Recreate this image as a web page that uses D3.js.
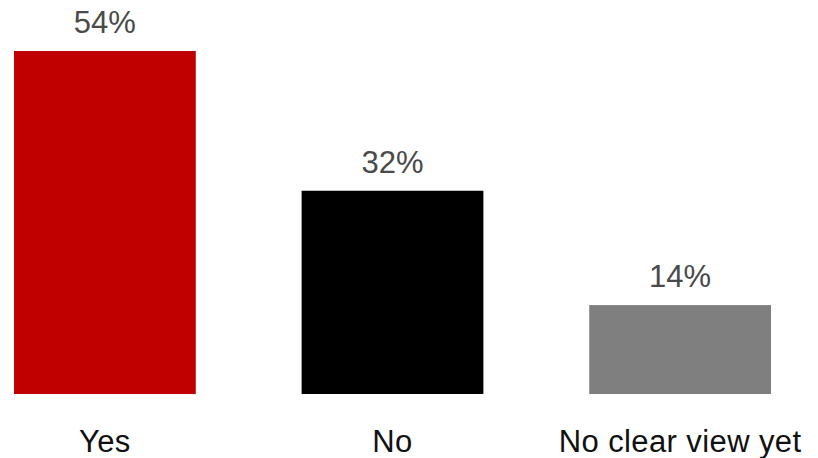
<!DOCTYPE html>
<html>
<head>
<meta charset="utf-8">
<script src="https://cdn.jsdelivr.net/npm/d3@7"></script>
<style>
  body { margin: 0; background: #fff; }
</style>
</head>
<body>
<div id="chart"></div>
<script>
const categories = ["Yes", "No", "No clear view yet"];
const values = [54, 32, 14];
const colors = ["#c00000", "#000000", "#7f7f7f"];

const width = 818;
const height = 458;
const baseline = 394;

const svg = d3.select("#chart")
  .append("svg")
  .attr("width", width)
  .attr("height", height);

const x = d3.scaleBand()
  .domain(categories)
  .range([14, 771])
  .paddingInner(0.368)
  .paddingOuter(0);

const y = d3.scaleLinear()
  .domain([0, 54])
  .range([baseline, 51]);

const data = categories.map((c, i) => ({ cat: c, value: values[i], color: colors[i] }));

// bars
svg.selectAll("rect")
  .data(data)
  .enter()
  .append("rect")
  .attr("x", d => x(d.cat))
  .attr("y", d => y(d.value))
  .attr("width", x.bandwidth())
  .attr("height", d => baseline - y(d.value))
  .style("fill", d => d.color);

// value labels
svg.selectAll(".value")
  .data(data)
  .enter()
  .append("text")
  .attr("class", "value")
  .attr("x", d => x(d.cat) + x.bandwidth() / 2)
  .attr("y", d => y(d.value) - 18)
  .attr("text-anchor", "middle")
  .style("font-family", "Arial, 'Liberation Sans', sans-serif")
  .style("font-size", "31px")
  .style("fill", "#4a4a4a")
  .text(d => d.value + "%");

// category labels
svg.selectAll(".cat")
  .data(data)
  .enter()
  .append("text")
  .attr("class", "cat")
  .attr("x", d => x(d.cat) + x.bandwidth() / 2)
  .attr("y", 452)
  .attr("text-anchor", "middle")
  .style("font-family", "Arial, 'Liberation Sans', sans-serif")
  .style("font-size", "31px")
  .style("letter-spacing", "0.4px")
  .style("fill", "#111")
  .text(d => d.cat);
</script>
</body>
</html>
